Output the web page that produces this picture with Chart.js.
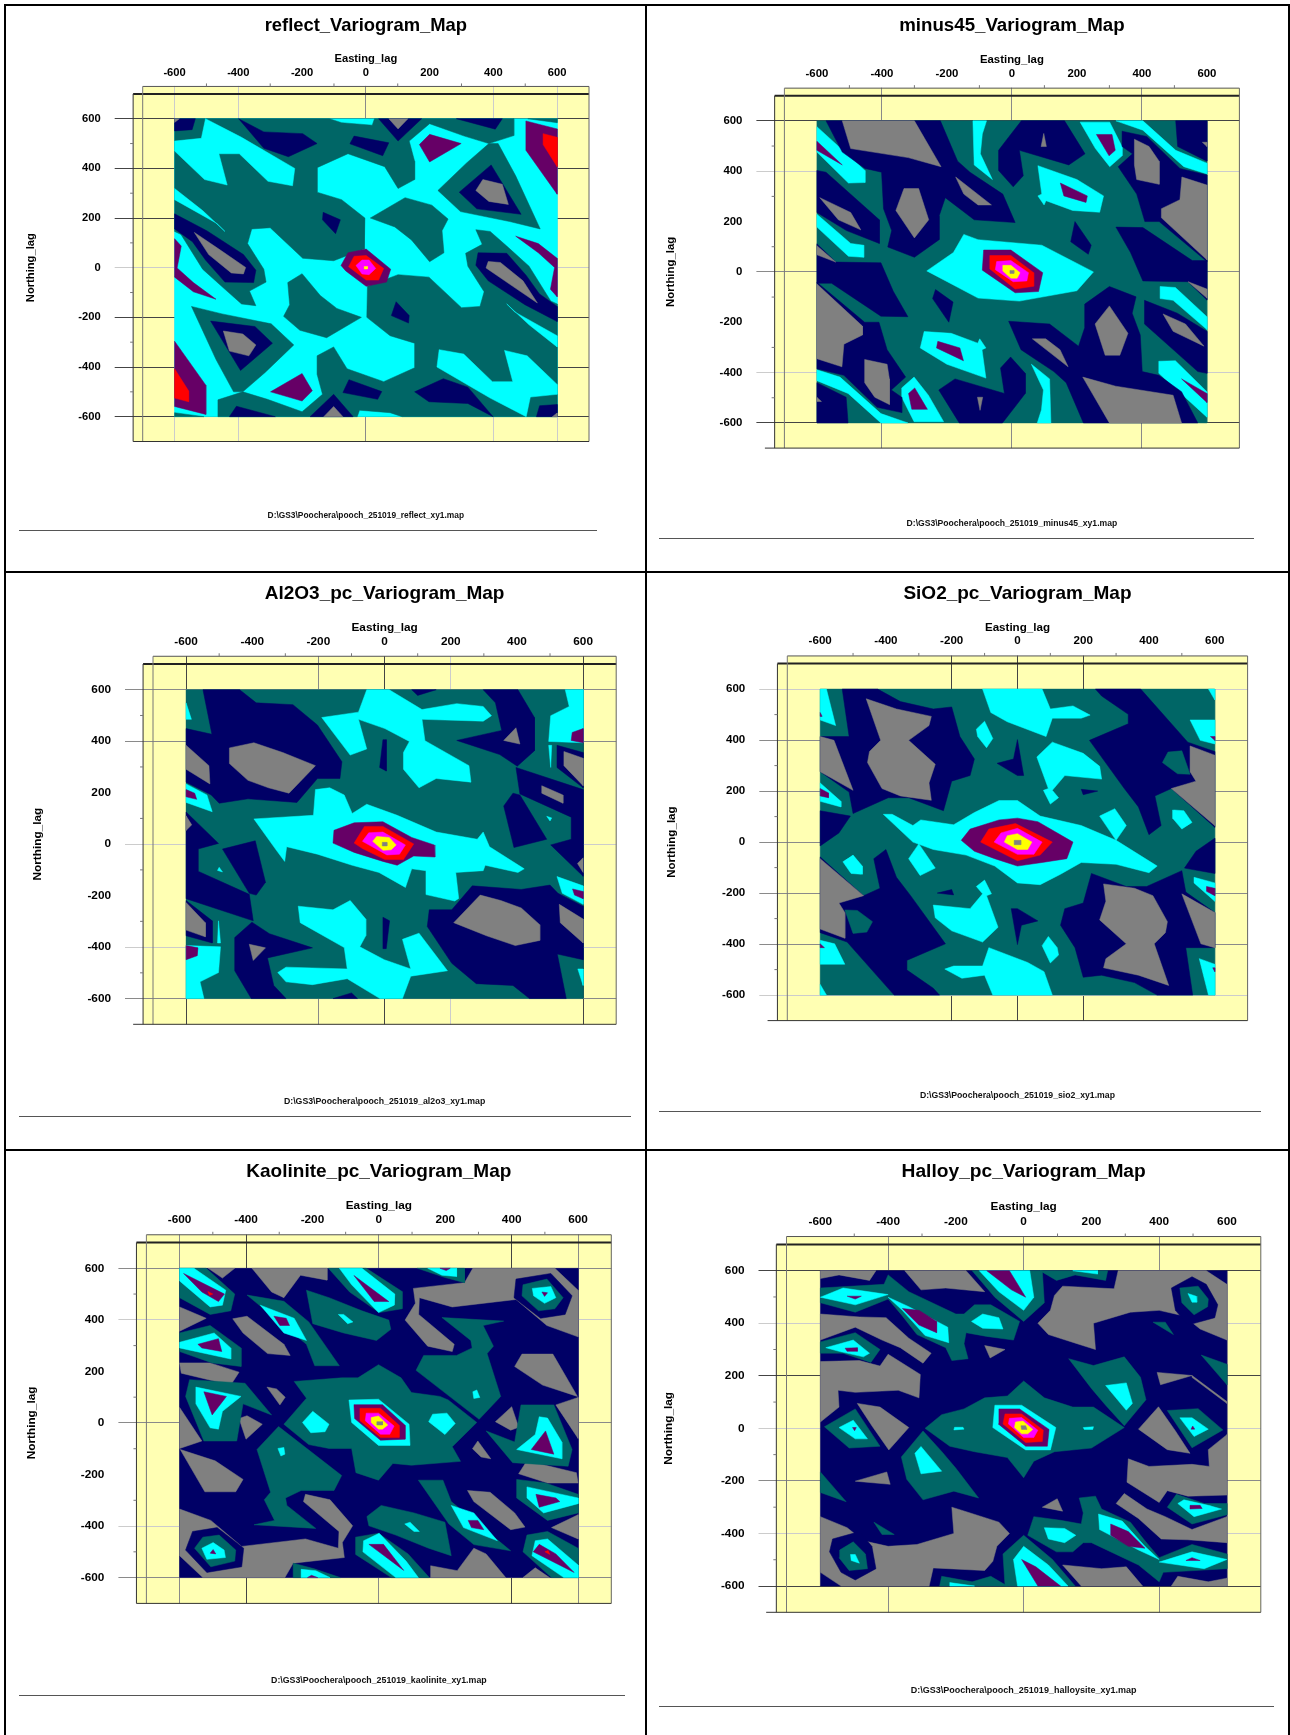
<!DOCTYPE html>
<html>
<head>
<meta charset="utf-8">
<title>Variogram maps</title>
<script src="https://cdn.jsdelivr.net/npm/chart.js@4"></script>
<style>
  html, body { margin: 0; padding: 0; background: #fff; }
  #page { position: relative; width: 1290px; height: 1735px; overflow: hidden; font-family: "Liberation Sans", Arial, sans-serif; }
  #page canvas { position: absolute; }
  .edge { position: absolute; background: #000; }
  .rule { position: absolute; height: 1px; background: #555; }
  .foot { position: absolute; width: 400px; margin-left: -200px; text-align: center; font-weight: bold; line-height: 10px; color: #111; white-space: nowrap; }
</style>
</head>
<body>
<div id="page"></div>
<script>
// Valores, en unidades de lag (x, y, x, y, ...).
// Un mapa de variograma cumple g(h) = g(-h): cada poligono se leyo una vez y se dibuja con su gemelo.
// Los arrays *Core y *Single son los que no tienen gemelo y se dibujan tal cual.
var tickLabels = [-600, -400, -200, 0, 200, 400, 600];
var minorTicks = [-500, -300, -100, 100, 300, 500];
var plotBounds = [[-600,600, 600,600, 600,-600, -600,-600]];

// reflect
var reflectTeal = [
  [-600,600, -114,600, -76,584, 20,574, 27,600, 464,600, 464,532, 386,500, 309,530, 200,580, 136,510, 153,429, 153,355, 101,319, 59,407, -56,459, -153,403, -153,304, -76,274, -3,200, -5,75, -101,28, -198,38, -300,161, -358,156, -371,97, -320,-6, -313,-58, -365,-94, -345,-153, -390,-146, -442,-87, -512,-6, -580,134, -600,146],
  [14,200, 123,282, 207,252, 258,196, 239,149, 245,60, 200,24, 143,112, 91,164],
  [415,500, 470,370, 547,156, 451,186, 297,226, 226,311, 316,422, 386,500],
  [508,600, 600,600, 600,584]
];
var reflectCyan = [
  [-503,600, -390,525, -223,400, -230,330, -307,348, -397,459, -461,459, -435,333, -506,355, -600,470, -600,510, -516,521],
  [-600,319, -512,230, -442,146, -467,178, -600,274]
];
var reflectPurple = [
  [200,537, 299,500, 200,426, 168,496],
  [502,591, 600,559, 600,296, 502,473],
  [470,127, 541,97, 600,38, 600,-117, 579,-87, 592,1, 541,60]
];
var reflectRed = [[556,540, 600,525, 600,407, 556,496]];
var reflectNavy = [
  [-600,600, -535,600, -545,556, -600,551],
  [-399,600, -320,547, -198,540, -153,500, -243,447, -320,481],
  [-37,530, 72,503, 53,451, -50,499],
  [40,600, 175,600, 101,510],
  [284,600, 428,600, 406,558],
  [393,414, 487,215, 348,237, 293,304],
  [-600,217, -499,149, -384,53, -345,-10, -352,-60, -442,-58, -503,31, -544,105, -600,156],
  [-134,223, -80,193, -95,137, -136,193]
];
var reflectGray = [
  [-600,600, -585,600, -600,585],
  [72,600, 132,600, 101,559],
  [367,355, 428,336, 447,255, 386,267, 345,311],
  [-538,142, -461,75, -377,1, -384,-25, -422,-21, -493,53]
];
var reflectCorePurple = [[-78,9, -56,60, 1,75, 78,-6, 65,-58, 1,-75, -63,-13]];
var reflectCoreRed = [[-54,4, -37,46, 1,49, 56,-3, 40,-50, 1,-50]];
var reflectCoreMagenta = [[-31,9, -12,31, 10,31, 31,-3, 10,-28, -12,-25]];
var reflectCoreYellow = [[-5,5, 5,5, 5,-5, -5,-5]];

// minus45
var minus45Cyan = [
  [-600,577, -452,403, -452,355, -503,353, -600,476],
  [-600,229, -496,113, -456,106, -456,58, -503,62, -600,178],
  [-120,600, -78,600, -91,548, -97,469, -60,367, -116,425],
  [210,595, 301,595, 339,498, 339,461, 301,418, 257,490],
  [80,422, 200,367, 282,302, 270,237, 187,244, 105,283, 99,266, 80,302, 92,309],
  [320,600, 403,600, 504,483, 600,432, 600,389, 529,418, 403,563]
];
var minus45Purple = [
  [-600,519, -522,425, -600,483],
  [260,546, 308,546, 318,483, 299,461],
  [149,353, 232,302, 228,276, 160,302]
];
var minus45Navy = [
  [-572,600, -220,600, -167,440, -129,396, -28,309, 10,196, -116,207, -205,295, -224,222, -224,128, -300,58, -382,99, -370,164, -395,251, -401,396, -452,411, -522,476],
  [-600,403, -572,396, -408,207, -408,113, -509,164, -600,236],
  [29,600, 162,600, 225,469, 175,425, 23,483, 35,382, 4,338, -41,403, -41,483, -15,527],
  [504,600, 600,600, 600,440, 510,498],
  [339,559, 415,538, 517,411, 600,385, 600,41, 453,200, 409,200, 384,309, 327,418, 371,469, 339,498],
  [320,178, 403,176, 555,45, 600,45, 600,-112, 542,-39, 403,-36, 365,77],
  [194,200, 244,106, 235,70, 181,120]
];
var minus45Gray = [
  [-522,600, -300,600, -218,418, -319,454, -496,490],
  [-332,331, -287,331, -256,207, -300,135, -357,244],
  [-173,377, -63,266, -104,266, -148,309],
  [-591,295, -496,236, -465,167, -534,207],
  [98,550, 106,498, 90,498],
  [586,515, 600,515, 600,498],
  [377,527, 422,498, 453,440, 453,348, 384,367, 377,425],
  [523,377, 600,345, 600,48, 460,215, 460,251, 517,287],
  [542,-39, 600,-68, 600,-104]
];
var minus45CoreCyan = [[-148,149, -104,128, 92,106, 251,0, 200,-75, 23,-116, -104,-104, -199,-39, -262,4, -180,77]];
var minus45CorePurple = [[-87,87, -3,87, 95,-3, 82,-78, 10,-83, -91,7]];
var minus45CoreRed = [[-68,65, -3,65, 67,-3, 67,-57, 10,-68, -68,12]];
var minus45CoreMagenta = [[-47,41, -3,45, 51,-3, 46,-36, 4,-39, -51,9]];
var minus45CoreYellow = [[-28,26, -3,26, 25,-3, 16,-25, -3,-25, -28,4]];
var minus45CoreGray = [[-6,6, 6,6, 6,-6, -6,-6]];

// Al2O3
var al2o3Cyan = [
  [-600,549, -584,485, -600,485],
  [-600,234, -537,191, -521,126, -600,162],
  [-54,600, 14,600, 113,523, 218,546, 298,535, 323,499, 298,478, 113,485, 122,402, 255,305, 261,241, 156,255, 104,219, 57,291, 57,356, 75,399, 1,449, -79,485, -54,370, -104,346, -190,492, -79,513],
  [546,600, 600,600, 600,394, 496,399, 502,499, 558,535],
  [496,384, 505,384, 502,298],
  [490,108, 505,102, 500,90]
];
var al2o3Purple = [
  [-600,212, -574,198, -568,174, -600,184],
  [567,434, 600,449, 600,394, 564,403]
];
var al2o3Navy = [
  [-549,600, -438,600, -388,549, -277,542, -203,463, -129,320, -135,255, -203,255, -265,162, -413,176, -500,159, -524,191, -600,241, -600,449, -522,427],
  [298,600, 403,600, 453,492, 453,363, 401,303, 348,348, 218,403, 354,442, 335,549],
  [82,600, 156,600, 100,578],
  [-5,406, 5,406, 5,284, -15,298],
  [521,384, 600,356, 600,219, 521,298],
  [397,298, 600,212, 600,-125, 502,-3, 564,19, 564,105, 409,195],
  [388,198, 360,148, 391,-13, 490,19, 409,191]
];
var al2o3Gray = [
  [-469,374, -395,394, -308,356, -209,305, -289,198, -351,219, -413,248, -469,313],
  [-600,384, -531,305, -528,234, -600,291],
  [360,403, 397,452, 409,389],
  [542,360, 600,334, 600,227, 542,305],
  [600,-53, 583,-75, 600,-110]
];
var al2o3GraySingle = [[475,227, 539,191, 539,159, 475,198]];
var al2o3CoreCyan = [[-395,98, -215,112, -209,212, -166,219, -122,191, -98,119, -54,155, 38,112, 156,47, 280,19, 298,47, 317,-10, 422,-96, 403,-110, 304,-82, 298,-103, 215,-110, 224,-211, 212,-221, 125,-196, 125,-103, 82,-96, 63,-168, -17,-110, -98,-82, -203,-39, -296,-10, -302,-67, -327,-24]];
var al2o3CorePurple = [[-153,54, -92,83, -5,87, 82,26, 150,-3, 152,-50, 88,-46, 38,-82, -5,-67, -92,-32, -156,4]];
var al2o3CoreRed = [[-92,4, -61,69, -5,69, 88,1, 57,-60, 1,-60, -67,-17]];
var al2o3CoreMagenta = [[-67,11, -48,44, -5,47, 63,-3, 45,-39, 7,-42]];
var al2o3CoreYellow = [[-36,11, -24,30, 14,26, 35,-3, 20,-22, -5,-24]];
var al2o3CoreGray = [[-7,7, 7,7, 7,-7, -7,-7]];

// SiO2
var sio2Cyan = [
  [-600,600, -581,600, -553,457, -600,479],
  [-600,232, -537,160, -537,138, -600,160],
  [-525,-73, -500,-51, -472,-94, -472,-126, -500,-112],
  [-106,600, 75,600, 100,522, 169,534, 221,498, 194,486, 106,486, 87,414, -31,472, -81,508],
  [-100,474, -75,406, -94,370, -121,414, -125,443],
  [106,392, 200,348, 250,297, 256,247, 144,261, 106,203, 125,174, 100,149, 79,203, 94,210, 59,334],
  [525,479, 600,479, 600,385, 556,399],
  [581,600, 600,600, 600,558],
  [475,126, 506,123, 531,77, 500,54],
  [250,102, 296,131, 331,65, 300,7]
];
var sio2Purple = [
  [-600,508, -594,493, -600,493],
  [-600,210, -575,193, -575,174, -600,181],
  [587,414, 600,414, 600,399]
];
var sio2Navy = [
  [-533,600, -425,600, -356,551, -256,522, -200,530, -175,414, -131,326, -144,261, -200,239, -225,123, -331,174, -393,174, -500,112, -512,196, -600,276, -600,414, -512,414],
  [-600,123, -508,102, -543,36, -600,-15],
  [0,402, 19,261, 0,261, -62,309, -12,326],
  [194,207, 244,200, 200,186],
  [237,600, 375,600, 518,392, 600,355, 600,58, 525,145, 468,210, 418,181, 437,65, 400,29, 368,138, 325,210, 219,399, 337,464, 337,501, 256,573]
];
var sio2Gray = [
  [-460,562, -368,522, -262,493, -269,457, -331,399, -250,305, -269,232, -262,164, -356,181, -412,210, -456,312, -450,355, -416,399],
  [-600,414, -558,399, -500,203, -600,276],
  [525,377, 600,341, 600,65, 468,210, 543,239, 525,276]
];
var sio2TealPatch = [[458,353, 500,358, 525,266, 487,268, 441,312]];
var sio2CoreCyan = [[-408,109, -381,109, -318,65, -294,87, -194,68, -131,116, -56,163, 0,163, 69,102, 194,65, 300,7, 425,-94, 400,-120, 300,-87, 194,-80, 131,-126, 69,-167, 0,-160, -69,-94, -156,-51, -256,-29, -318,0]];
var sio2CorePurple = [[-171,7, -144,51, -56,87, 0,94, 62,80, 169,0, 150,-65, 75,-80, 0,-94, -69,-65, -131,-36]];
var sio2CoreRed = [[-112,0, -87,51, -6,73, 106,0, 69,-51, 0,-73]];
var sio2CoreMagenta = [[-71,0, -50,36, 0,54, 75,0, 50,-48, 0,-48]];
var sio2CoreYellow = [[-40,0, -31,25, 0,33, 44,0, 31,-29, 0,-29]];
var sio2CoreGray = [[-10,7, 10,7, 10,-10, -10,-10]];

// Kaolinite
var kaolGray = [
  [-382,600, -156,600, -156,554, -236,573, -286,486, -323,508],
  [-514,600, -434,600, -471,562],
  [104,522, 258,544, 283,600, 530,600, 600,515, 600,334, 506,378, 413,479, 221,450, 122,486, 120,421, 227,305, 221,277, 147,298, 79,399, 110,464],
  [431,267, 524,267, 598,103, 493,147, 409,219],
  [-600,450, -520,406, -600,356],
  [-600,233, -508,233, -421,197, -446,147, -595,193],
  [-440,404, -397,414, -286,305, -267,262, -335,269, -409,349],
  [-337,139, -308,132, -282,100, -298,70],
  [-421,17, -397,28, -351,-5, -400,-63],
  [-600,60, -533,-70, -600,-99]
];
var kaolNavyPatch = [[413,558, 518,580, 582,493, 561,421, 487,406, 407,486]];
var kaolTeal = [
  [434,536, 506,558, 555,486, 530,443, 481,435, 431,493],
  [116,600, 258,600, 258,544, 197,565],
  [190,409, 376,395, 314,378, 345,298, 326,269, 367,103, 302,14, 112,204, 135,262, 234,262, 281,291, 277,320],
  [-218,515, -150,486, -51,435, 30,399, 36,363, -7,320, -106,349, -199,385],
  [-397,496, -286,472, -211,392, -119,222, -193,222, -218,305],
  [-600,600, -520,600, -434,500, -446,435, -508,421, -600,486],
  [-600,349, -508,378, -415,291, -415,219, -502,233, -600,277],
  [-570,168, -403,154, -323,31, -409,74, -428,-70, -527,-70, -582,103],
  [-152,600, -38,600, 70,510, 70,443, 1,428, -88,508]
];
var kaolCoreTeal = [[-255,161, -112,175, -63,175, -1,226, 67,175, 98,118, 184,103, 209,89, 295,2, 221,-92, 246,-149, 98,-164, 42,-157, -1,-222, -69,-193, -82,-99, -150,-99, -211,-84, -286,-5, -218,96]];
var kaolCyan = [
  [462,522, 518,529, 533,486, 499,464, 466,493],
  [147,600, 234,600, 234,568, 190,573],
  [-122,421, -106,421, -78,392, -94,385],
  [-357,457, -255,406, -218,320, -286,349],
  [-600,600, -557,600, -461,515, -471,457, -508,450, -600,551],
  [-600,313, -496,349, -446,291, -446,248, -600,291],
  [-551,139, -415,103, -471,45, -483,-24, -508,-19, -551,74],
  [-119,600, -51,600, 48,500, 46,457, -1,428, -82,536],
  [-230,2, -199,45, -150,-5, -162,-34, -205,-38],
  [-304,-99, -286,-95, -283,-121, -295,-128]
];
var kaolPurple = [
  [491,508, 508,505, 499,491],
  [184,600, 215,600, 203,591],
  [-316,414, -279,406, -269,378, -298,378],
  [-588,580, -465,500, -483,471, -533,508],
  [-545,305, -483,327, -473,277, -533,291],
  [-527,121, -459,103, -502,31],
  [-75,572, 30,471, -14,471]
];
var kaolRed = [[-515,510, -500,500, -510,495]];
var kaolCoreCyan = [[-90,89, -1,92, 91,-5, 94,-87, -1,-87, -82,2]];
var kaolCorePurple = [[-75,71, 11,71, 79,-9, 79,-63, 5,-67, -73,17]];
var kaolCoreRed = [[-57,57, 5,57, 61,-9, 61,-56, 5,-56, -57,9]];
var kaolCoreMagenta = [[-38,38, -1,38, 46,-12, 33,-44, 5,-44, -41,9]];
var kaolCoreYellow = [[-23,21, -1,27, 27,-8, 11,-24, -1,-24, -23,2]];
var kaolCoreGray = [[-6,5, 11,5, 11,-8, -6,-8]];

// Halloy
var halloyGray = [
  [-600,600, -436,600, -455,563, -545,584, -600,570],
  [-351,600, -170,600, -115,520, -230,534, -303,527],
  [115,541, 267,531, 279,600, 539,600, 600,548, 600,336, 521,378, 473,428, 400,449, 315,442, 206,400, 212,300, 158,322, 73,357, 42,400, 79,449, 91,506],
  [-600,435, -485,424, -406,421, -339,343, -273,286, -297,248, -364,307, -418,336, -497,385, -600,336],
  [-600,254, -485,258, -424,237, -400,282, -305,205, -309,116, -370,145, -497,137, -548,145, -545,81, -600,24],
  [-491,95, -424,81, -339,3, -398,-82, -448,10],
  [-115,315, -55,300, -99,268],
  [394,213, 497,201, 404,166]
];
var halloyGraySingle = [[497,201, 600,102, 600,95, 497,194]];
var halloyNavyPatch = [[436,534, 497,577, 539,548, 573,470, 564,421, 485,393, 448,449]];
var halloyTeal = [
  [461,534, 515,541, 545,492, 543,463, 503,432, 467,478],
  [-152,600, 55,600, 61,478, 0,407, -85,499],
  [48,600, 248,600, 242,563, 152,584, 97,563],
  [-600,534, -412,548, -400,584, -339,520, -200,435, -176,435, -145,470, -97,470, -12,407, -30,336, -109,350, -170,364, -176,322, -164,265, -212,258, -230,307, -315,357, -358,428, -400,492, -497,442, -600,478],
  [-600,329, -497,364, -424,300, -451,251, -533,286, -600,286],
  [-588,6, -497,74, -424,-68, -515,-75],
  [133,265, 206,239, 297,272, 345,194, 361,109, 297,10, 242,88, 200,152],
  [524,279, 600,244, 600,166],
  [382,404, 418,404, 442,357]
];
var halloyCoreTeal = [[-291,0, -242,52, -176,74, -115,116, -48,123, 0,180, 61,116, 145,81, 206,81, 297,3, 200,-75, 91,-89, 30,-125, 0,-188, -48,-111, -145,-89, -218,-68]];
var halloyCyan = [
  [485,513, 509,503, 511,480, 497,480],
  [-131,600, 18,600, 30,499, 0,449, -73,520],
  [145,600, 218,600, 218,587],
  [-600,499, -533,534, -400,509, -497,470],
  [-400,499, -339,463, -224,385, -221,326, -291,353, -358,449],
  [-154,407, -121,435, -73,421, -61,378, -121,381],
  [-584,307, -503,336, -455,286, -473,272, -545,293],
  [-545,3, -503,31, -461,-40, -497,-40],
  [242,163, 303,173, 321,95, 303,69],
  [176,3, 206,6, 204,-4, 179,-4]
];
var halloyPurple = [
  [-109,600, -42,600, 6,499, -36,527],
  [-521,503, -479,503, -497,492],
  [-358,456, -309,449, -257,407, -257,364, -309,393],
  [-527,305, -491,307, -491,293, -521,293],
  [-505,3, -494,3, -499,-9]
];
var halloyCoreCyan = [[-85,88, -6,88, 95,3, 79,-82, 6,-82, -91,3]];
var halloyCorePurple = [[-73,74, -12,74, 75,-4, 70,-68, 6,-68, -75,17]];
var halloyCoreRed = [[-55,55, -6,55, 58,-7, 55,-50, 6,-54, -61,17]];
var halloyCoreMagenta = [[-42,38, -6,41, 42,-7, 30,-35, 0,-35, -45,17]];
var halloyCoreYellow = [[-24,24, -2,28, 27,-4, 12,-21, -6,-21, -27,3]];
var halloyCoreGray = [[-8,10, 6,10, 10,-4, -6,-4]];

// Colores de los niveles
var TEAL = '#006666', CYAN = '#00ffff', NAVY = '#000066', GRAY = '#808080', PURPLE = '#660066', RED = '#ff0000', MAGENTA = '#ff00ff', YELLOW = '#ffff00';
var PAPER = '#ffffb3';
var D = '#444444', M = '#8a8a8a', L = '#cccccc', N = 'rgba(0,0,0,0)';

// [color, poligonos, true si no lleva gemelo]
var panels = [
  {
    title: 'reflect_Variogram_Map', foot: 'D:\\GS3\\Poochera\\pooch_251019_reflect_xy1.map',
    cell: [0, 0, 645, 570], area: [142.7, 589, 93.9, 441.5], titleY: 25.7, eastY: 58.7, northX: 31, labelGap: 6, footY: 515, rule: [530, 19, 597],
    titleSize: 18.4, labelSize: 11.2, footSize: 8.4, tail: -730,
    gridX: [L, L, N, M, N, L, L], gridY: [D, D, D, L, D, D, D],
    layers: [[CYAN, plotBounds, true], [TEAL, reflectTeal], [CYAN, reflectCyan], [PURPLE, reflectPurple], [RED, reflectRed], [NAVY, reflectNavy], [GRAY, reflectGray],
      [PURPLE, reflectCorePurple, true], [RED, reflectCoreRed, true], [MAGENTA, reflectCoreMagenta, true], [YELLOW, reflectCoreYellow, true]]
  },
  {
    title: 'minus45_Variogram_Map', foot: 'D:\\GS3\\Poochera\\pooch_251019_minus45_xy1.map',
    cell: [645, 0, 645, 570], area: [784.4, 1239.4, 95.7, 448.1], titleY: 25.7, eastY: 59.4, northX: 671, labelGap: 7, footY: 522.6, rule: [538, 659, 1254],
    titleSize: 18.7, labelSize: 11.4, footSize: 8.6, tail: -760,
    gridX: [N, M, N, M, N, M, N], gridY: [D, L, N, M, N, L, D],
    layers: [[TEAL, plotBounds, true], [CYAN, minus45Cyan], [PURPLE, minus45Purple], [NAVY, minus45Navy], [GRAY, minus45Gray],
      [CYAN, minus45CoreCyan, true], [PURPLE, minus45CorePurple, true], [RED, minus45CoreRed, true], [MAGENTA, minus45CoreMagenta, true], [YELLOW, minus45CoreYellow, true], [GRAY, minus45CoreGray, true]]
  },
  {
    title: 'Al2O3_pc_Variogram_Map', foot: 'D:\\GS3\\Poochera\\pooch_251019_al2o3_xy1.map',
    cell: [0, 570, 645, 580], area: [153, 616.2, 664, 1024.3], titleY: 593.3, eastY: 627.7, northX: 37, labelGap: 7, footY: 1100.5, rule: [1116, 19, 631],
    titleSize: 19, labelSize: 11.8, footSize: 8.75, tail: -760,
    gridX: [D, N, M, D, L, N, D], gridY: [M, L, N, L, N, M, M],
    layers: [[TEAL, plotBounds, true], [CYAN, al2o3Cyan], [PURPLE, al2o3Purple], [NAVY, al2o3Navy], [GRAY, al2o3Gray], [GRAY, al2o3GraySingle, true],
      [CYAN, al2o3CoreCyan, true], [PURPLE, al2o3CorePurple, true], [RED, al2o3CoreRed, true], [MAGENTA, al2o3CoreMagenta, true], [YELLOW, al2o3CoreYellow, true], [GRAY, al2o3CoreGray, true]]
  },
  {
    title: 'SiO2_pc_Variogram_Map', foot: 'D:\\GS3\\Poochera\\pooch_251019_sio2_xy1.map',
    cell: [645, 570, 645, 580], area: [787.3, 1247.6, 663.6, 1020.6], titleY: 593.3, eastY: 627.3, northX: 671.7, labelGap: 8, footY: 1095.3, rule: [1111, 659, 1261],
    titleSize: 19, labelSize: 11.6, footSize: 8.7, tail: -760,
    gridX: [N, N, D, D, D, N, N], gridY: [L, M, M, M, M, M, L],
    layers: [[TEAL, plotBounds, true], [CYAN, sio2Cyan], [PURPLE, sio2Purple], [NAVY, sio2Navy], [GRAY, sio2Gray], [TEAL, sio2TealPatch],
      [CYAN, sio2CoreCyan, true], [PURPLE, sio2CorePurple, true], [RED, sio2CoreRed, true], [MAGENTA, sio2CoreMagenta, true], [YELLOW, sio2CoreYellow, true], [GRAY, sio2CoreGray, true]]
  },
  {
    title: 'Kaolinite_pc_Variogram_Map', foot: 'D:\\GS3\\Poochera\\pooch_251019_kaolinite_xy1.map',
    cell: [0, 1150, 645, 585], area: [146.4, 611.3, 1242.5, 1603.4], titleY: 1171.3, eastY: 1206, northX: 30.9, labelGap: 8, footY: 1679.5, rule: [1695, 19, 625],
    titleSize: 19, labelSize: 11.8, footSize: 8.8, tail: -730,
    gridX: [M, D, N, M, N, D, M], gridY: [M, L, N, M, N, L, M],
    layers: [[NAVY, plotBounds, true], [GRAY, kaolGray], [NAVY, kaolNavyPatch], [TEAL, kaolTeal], [TEAL, kaolCoreTeal, true], [CYAN, kaolCyan], [PURPLE, kaolPurple], [RED, kaolRed],
      [CYAN, kaolCoreCyan, true], [PURPLE, kaolCorePurple, true], [RED, kaolCoreRed, true], [MAGENTA, kaolCoreMagenta, true], [YELLOW, kaolCoreYellow, true], [GRAY, kaolCoreGray, true]]
  },
  {
    title: 'Halloy_pc_Variogram_Map', foot: 'D:\\GS3\\Poochera\\pooch_251019_halloysite_xy1.map',
    cell: [645, 1150, 645, 585], area: [786.5, 1260.8, 1244.4, 1612.3], titleY: 1171.6, eastY: 1207, northX: 668.4, labelGap: 8, footY: 1690.3, rule: [1706, 659, 1274],
    titleSize: 19.2, labelSize: 11.8, footSize: 9, tail: -760,
    gridX: [N, M, N, M, N, M, N], gridY: [D, L, M, L, D, L, D],
    layers: [[NAVY, plotBounds, true], [GRAY, halloyGray], [GRAY, halloyGraySingle, true], [NAVY, halloyNavyPatch], [TEAL, halloyTeal], [TEAL, halloyCoreTeal, true], [CYAN, halloyCyan], [PURPLE, halloyPurple],
      [CYAN, halloyCoreCyan, true], [PURPLE, halloyCorePurple, true], [RED, halloyCoreRed, true], [MAGENTA, halloyCoreMagenta, true], [YELLOW, halloyCoreYellow, true], [GRAY, halloyCoreGray, true]]
  }
];

var page = document.getElementById('page');

function addDiv(className, left, top, width, height, text) {
  var el = document.createElement('div');
  el.className = className;
  el.style.left = left + 'px';
  el.style.top = top + 'px';
  if (width !== null) el.style.width = width + 'px';
  if (height !== null) el.style.height = height + 'px';
  if (text) el.textContent = text;
  page.appendChild(el);
  return el;
}

// Un poligono cerrado, como dataset de lineas con relleno
function polygonDataset(flat, color, sign) {
  var pts = [];
  for (var i = 0; i < flat.length; i += 2) {
    pts.push({ x: sign * flat[i], y: sign * flat[i + 1] });
  }
  pts.push(pts[0]);
  return {
    data: pts,
    showLine: true,
    fill: 'shape',
    backgroundColor: color,
    borderColor: color,
    borderWidth: 0.5,
    pointRadius: 0,
    tension: 0
  };
}

function buildDatasets(layers) {
  var out = [];
  layers.forEach(function (layer) {
    layer[1].forEach(function (flat) {
      out.push(polygonDataset(flat, layer[0], 1));
      if (!layer[2]) out.push(polygonDataset(flat, layer[0], -1));
    });
  });
  // Chart.js pinta el primer dataset encima
  return out.reverse();
}

// Marco amarillo y lineas del mapa, con las escalas del grafico
var surferFrame = {
  id: 'surferFrame',
  beforeDraw: function (chart) {
    var x = chart.scales.x, y = chart.scales.y, ctx = chart.ctx;
    var left = x.getPixelForValue(-730), right = x.getPixelForValue(700);
    var top = y.getPixelForValue(730), bottom = y.getPixelForValue(-700);
    ctx.save();
    ctx.fillStyle = PAPER;
    ctx.fillRect(x.getPixelForValue(-700), top, right - x.getPixelForValue(-700), bottom - top);
    ctx.fillRect(left, y.getPixelForValue(700), right - left, bottom - y.getPixelForValue(700));
    ctx.restore();
  },
  afterDraw: function (chart, args, opts) {
    var x = chart.scales.x, y = chart.scales.y, ctx = chart.ctx;
    function seg(x1, y1, x2, y2, color, width) {
      ctx.strokeStyle = color;
      ctx.lineWidth = width;
      ctx.beginPath();
      ctx.moveTo(x.getPixelForValue(x1), y.getPixelForValue(y1));
      ctx.lineTo(x.getPixelForValue(x2), y.getPixelForValue(y2));
      ctx.stroke();
    }
    ctx.save();
    seg(-700, 730, 700, 730, '#555555', 1);
    seg(-730, 700, 700, 700, '#222222', 2);
    seg(-730, 700, -730, -700, '#333333', 1);
    seg(-700, 730, -700, -700, '#777777', 1);
    seg(700, 730, 700, -700, '#666666', 1);
    seg(opts.tail, -700, 700, -700, '#333333', 1);
    minorTicks.forEach(function (v) {
      var px = x.getPixelForValue(v), top = y.getPixelForValue(730);
      ctx.strokeStyle = '#777777';
      ctx.lineWidth = 1;
      ctx.beginPath();
      ctx.moveTo(px, top);
      ctx.lineTo(px, top - 3);
      ctx.stroke();
      var py = y.getPixelForValue(v), left = x.getPixelForValue(-730);
      ctx.beginPath();
      ctx.moveTo(left, py);
      ctx.lineTo(left - 3, py);
      ctx.stroke();
    });
    ctx.restore();
  }
};

function setTicks(axis) {
  axis.ticks = tickLabels.map(function (v) { return { value: v }; });
}

function createMap(panel) {
  var cell = panel.cell, area = panel.area;
  var canvas = document.createElement('canvas');
  canvas.width = cell[2];
  canvas.height = cell[3];
  canvas.style.left = cell[0] + 'px';
  canvas.style.top = cell[1] + 'px';
  page.appendChild(canvas);

  var padLeft = panel.northX - cell[0] - 6.6;
  var padTop = panel.titleY - cell[1] - panel.titleSize * 0.6;
  var font = { family: '"Liberation Sans", Arial, sans-serif', size: panel.labelSize, weight: 'bold' };
  var halfLine = panel.labelSize * 0.6;

  return new Chart(canvas.getContext('2d'), {
    type: 'scatter',
    data: { datasets: buildDatasets(panel.layers) },
    plugins: [surferFrame],
    options: {
      responsive: false,
      animation: false,
      events: [],
      devicePixelRatio: 1,
      layout: {
        padding: {
          left: padLeft,
          top: padTop,
          right: cell[0] + cell[2] - area[1],
          bottom: cell[1] + cell[3] - area[3]
        }
      },
      scales: {
        x: {
          type: 'linear',
          position: 'top',
          min: -700,
          max: 700,
          afterBuildTicks: setTicks,
          afterFit: function (axis) { axis.height = area[2] - (panel.eastY - halfLine); },
          title: { display: true, text: 'Easting_lag', color: '#000', font: font, padding: 0 },
          ticks: { color: '#000', font: font, padding: panel.labelGap, maxRotation: 0, autoSkip: false },
          grid: {
            tickLength: 8,
            color: function (c) { return panel.gridX[tickLabels.indexOf(c.tick.value)]; }
          },
          border: { display: false }
        },
        y: {
          type: 'linear',
          position: 'left',
          min: -700,
          max: 700,
          afterBuildTicks: setTicks,
          afterFit: function (axis) { axis.width = area[0] - cell[0] - padLeft; },
          title: { display: true, text: 'Northing_lag', color: '#000', font: font, padding: 0 },
          ticks: { color: '#000', font: font, padding: 14, autoSkip: false },
          grid: {
            tickLength: 28,
            color: function (c) { return panel.gridY[tickLabels.indexOf(c.tick.value)]; }
          },
          border: { display: false }
        }
      },
      plugins: {
        legend: { display: false },
        tooltip: { enabled: false },
        surferFrame: { tail: panel.tail },
        title: {
          display: true,
          text: panel.title,
          color: '#000',
          fullSize: false,
          font: { family: '"Liberation Sans", Arial, sans-serif', size: panel.titleSize, weight: 'bold' },
          padding: { top: 0, bottom: panel.eastY - halfLine - (panel.titleY + panel.titleSize * 0.6) }
        }
      }
    }
  });
}

panels.forEach(function (panel) {
  createMap(panel);
  var foot = addDiv('foot', (panel.area[0] + panel.area[1]) / 2, panel.footY - 5, null, null, panel.foot);
  foot.style.fontSize = panel.footSize + 'px';
  addDiv('rule', panel.rule[1], panel.rule[0], panel.rule[2] - panel.rule[1], null);
});

// Bordes de la tabla
addDiv('edge', 4, 4, 1286, 2);
addDiv('edge', 4, 4, 2, 1731);
addDiv('edge', 645, 4, 2, 1731);
addDiv('edge', 1288, 4, 2, 1731);
addDiv('edge', 4, 571, 1286, 2);
addDiv('edge', 4, 1149, 1286, 2);
</script>
</body>
</html>
